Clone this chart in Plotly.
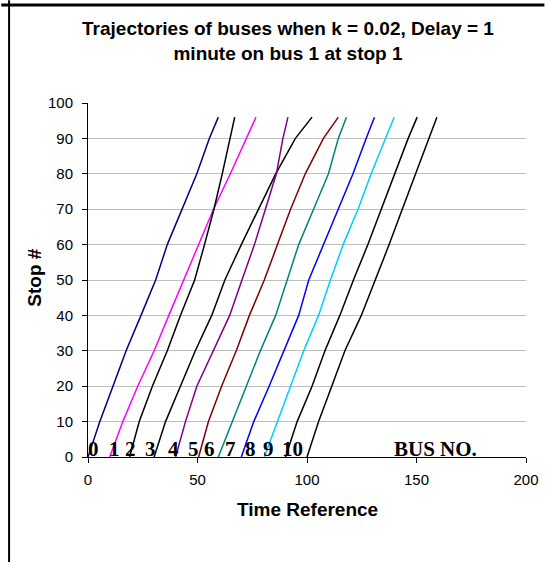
import plotly.graph_objects as go

# ---- data ----
stops = [0, 10, 20, 30, 40, 50, 60, 70, 80, 90, 96]

bus0 = [0, 5.4, 11.4, 17.4, 24.2, 30.9, 36.2, 42.9, 49.7, 55.4, 59.5]
bus1 = [9.9, 15.9, 22.7, 30.2, 36.9, 43.7, 50.5, 57.3, 65.0, 72.3, 76.7]
bus2 = [19.0, 23.4, 29.4, 36.2, 42.2, 48.7, 53.2, 57.5, 61.3, 64.9, 67.0]
bus3 = [30.2, 35.4, 42.2, 49.0, 56.5, 62.5, 70.0, 78.0, 85.7, 94.7, 102.3]
bus4 = [40.0, 44.5, 49.7, 57.2, 64.7, 70.3, 76.0, 81.0, 86.0, 89.0, 91.3]
bus5 = [50.5, 55.0, 61.0, 67.7, 73.7, 80.5, 86.5, 92.5, 99.2, 107.5, 114.3]
bus6 = [59.5, 65.8, 72.2, 78.7, 85.7, 91.0, 96.2, 103.0, 109.8, 114.3, 118.0]
bus7 = [70.0, 75.7, 82.7, 89.5, 96.2, 100.8, 107.5, 114.3, 121.0, 127.0, 130.8]
bus8 = [80.5, 86.5, 92.5, 98.5, 105.3, 110.7, 116.5, 123.3, 129.3, 136.0, 139.8]
bus9 = [90.2, 95.5, 102.3, 108.2, 115.0, 121.2, 127.8, 133.9, 140.2, 146.2, 150.3]
bus10 = [100.0, 105.3, 111.3, 117.3, 124.8, 131.2, 137.5, 143.5, 149.5, 155.7, 159.3]

bus_series = [bus0, bus1, bus2, bus3, bus4, bus5, bus6, bus7, bus8, bus9, bus10]
bus_names = ["Bus 0", "Bus 1", "Bus 2", "Bus 3", "Bus 4", "Bus 5",
             "Bus 6", "Bus 7", "Bus 8", "Bus 9", "Bus 10"]

label_texts = ["0", "1", "2", "3", "4", "5", "6", "7", "8", "9", "10", "BUS NO."]
label_times = [2.4, 12.2, 19.2, 28.7, 38.9, 48.2, 55.7, 65.2, 74.4, 82.4, 93.2, 158.6]

x_ticks = [0, 50, 100, 150, 200]
y_ticks = [0, 10, 20, 30, 40, 50, 60, 70, 80, 90, 100]

# ---- styles ----
colors = ["#000080", "#FF00FF", "#000000", "#000000", "#800080", "#800000",
          "#008080", "#0000FF", "#00CCFF", "#000000", "#000000"]

fig = go.Figure()
for name, xs, c in zip(bus_names, bus_series, colors):
    fig.add_trace(go.Scatter(x=xs, y=stops, mode="lines", name=name,
                             line=dict(color=c, width=1.5), showlegend=False))

sans = "Liberation Sans, Arial, sans-serif"
serif = "Liberation Serif, Times New Roman, serif"

annotations = []
for t, xv in zip(label_texts, label_times):
    annotations.append(dict(x=xv, y=0, xref="x", yref="y", text="<b>%s</b>" % t,
                            showarrow=False, xanchor="center", yanchor="bottom",
                            yshift=-6, font=dict(family=serif, size=21, color="black")))
annotations.append(dict(x=0.5, y=-0.1497, xref="paper", yref="paper",
                        text="<b>Time Reference</b>", showarrow=False,
                        xanchor="center", yanchor="middle",
                        font=dict(family=sans, size=19, color="black")))
annotations.append(dict(x=-0.124, y=0.5056, xref="paper", yref="paper",
                        text="<b>Stop #</b>", showarrow=False, textangle=-90,
                        xanchor="center", yanchor="middle",
                        font=dict(family=sans, size=19, color="black")))

shapes = [
    dict(type="line", xref="paper", yref="paper", x0=-0.198, x1=1.042, y0=1.2768, y1=1.2768,
         line=dict(color="black", width=3), layer="above"),
    dict(type="line", xref="paper", yref="paper", x0=-0.1802, x1=-0.1802, y0=1.29, y1=-0.3,
         line=dict(color="black", width=2)),
]

fig.update_layout(
    width=551, height=562,
    margin=dict(l=88, r=19, t=103, b=105),
    paper_bgcolor="white", plot_bgcolor="white",
    title=dict(text="<b>Trajectories of buses when k = 0.02, Delay = 1<br>minute on bus 1 at stop 1</b>",
               x=0.5227, xanchor="center", xref="container",
               y=0.937, yanchor="middle", yref="container",
               font=dict(family=sans, size=19, color="black")),
    annotations=annotations,
    shapes=shapes,
    showlegend=False,
)
fig.update_xaxes(range=[0, 200], tickvals=x_ticks, showgrid=False, zeroline=False,
                 showline=True, linecolor="black", linewidth=1,
                 ticks="outside", ticklen=5, tickcolor="black", ticklabelstandoff=4,
                 tickfont=dict(family=sans, size=15, color="black"))
fig.update_yaxes(range=[0, 100], tickvals=y_ticks, showgrid=True, gridcolor="#bfbfbf",
                 gridwidth=1, zeroline=False,
                 showline=True, linecolor="black", linewidth=1,
                 ticks="outside", ticklen=5, tickcolor="black", ticklabelstandoff=6,
                 tickfont=dict(family=sans, size=15, color="black"))

fig.write_html("out.html")
